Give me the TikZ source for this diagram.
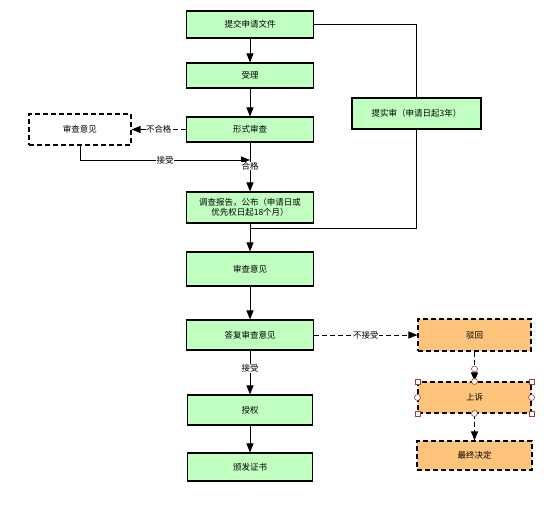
\documentclass[tikz,border=0pt]{standalone}
\usepackage{fontspec}
\setmainfont{Noto Sans CJK SC}
\usetikzlibrary{arrows.meta}
\definecolor{boxgreen}{RGB}{192,255,192}
\definecolor{boxorange}{RGB}{255,196,124}
\definecolor{handle}{RGB}{160,60,60}
\begin{document}
\begin{tikzpicture}[x=1pt,y=-1pt,
  font=\fontsize{8.5}{10.5}\selectfont,
  dsh/.style={dash pattern=on 5pt off 3pt},
  box/.style={draw, line width=1.1pt, fill=boxgreen, minimum width=127pt, inner sep=1pt, align=center},
  obox/.style={draw, line width=1.1pt, dsh, fill=boxorange, minimum width=113pt, inner sep=1pt},
  conn/.style={line width=0.9pt},
  arr/.style={conn, -{Triangle[length=9pt,width=7pt]}},
  lbl/.style={fill=white, inner sep=0.5pt},
  hc/.style={circle, draw=handle, fill=white, line width=0.6pt, minimum size=6pt, inner sep=0, solid},
  hs/.style={rectangle, draw=handle, fill=white, line width=0.6pt, minimum size=5pt, inner sep=0, solid}]
\useasboundingbox (0,0) rectangle (558,517);

\node[box, minimum height=27pt] (tj) at (250,24.5) {提交申请文件};
\node[box, minimum height=25pt] (sl) at (250,75.5) {受理};
\node[box, minimum height=25pt] (xs) at (250,129.5) {形式审查};
\node[draw, line width=1.1pt, dsh, fill=white, minimum width=102pt, minimum height=31pt] (sc) at (80,129.5) {审查意见};
\node[box, minimum height=31pt] (dc) at (250,207.5) {调查报告，公布（申请日或\\优先权日起18个月）};
\node[box, minimum width=129pt, minimum height=31pt] (ss) at (416.5,113.5) {提实审（申请日起3年）};
\node[box, minimum height=34pt] (sy) at (250,269) {审查意见};
\node[box, minimum height=30pt] (df) at (250,335) {答复审查意见};
\node[box, minimum width=125pt, minimum height=30pt] (sq) at (250,410) {授权};
\node[box, minimum width=125pt, minimum height=28pt] (bf) at (250,467) {颁发证书};
\node[obox, minimum height=32pt] (bh) at (474.5,335) {驳回};
\node[obox, minimum height=31pt] (su) at (474.5,397.5) {上诉};
\node[obox, minimum width=115pt, minimum height=29pt] (zz) at (474.5,455.5) {最终决定};

\coordinate (jc) at (250,160);
\coordinate (jd) at (250,228);

\draw[arr] (tj) -- (sl);
\draw[arr] (sl) -- (xs);
\draw[arr, dsh] (xs.west) -- node[lbl]{不合格} (sc.east);
\draw[arr] (sc.south) |- node[lbl, pos=0.75]{接受} (jc);
\draw[arr] (xs.south) -- node[lbl, pos=0.48]{合格} (dc.north);
\draw[conn] (tj.east) -| (ss.north);
\draw[conn] (ss.south) |- (jd);
\draw[arr] (dc.south) -- (sy.north);
\draw[arr] (sy) -- (df);
\draw[arr] (df) -- node[lbl, pos=0.4]{接受} (sq);
\draw[arr] (sq) -- (bf);
\draw[arr, dsh] (df.east) -- node[lbl]{不接受} (bh.west);
\draw[arr, dsh] (bh) -- (su);
\draw[arr, dsh] (su) -- (zz);

\node[hc] at (474.5,369) {};
\foreach \a in {north,south,east,west} \node[hc] at (su.\a) {};
\foreach \a in {north east,north west,south east,south west} \node[hs] at (su.\a) {};
\end{tikzpicture}
\end{document}
